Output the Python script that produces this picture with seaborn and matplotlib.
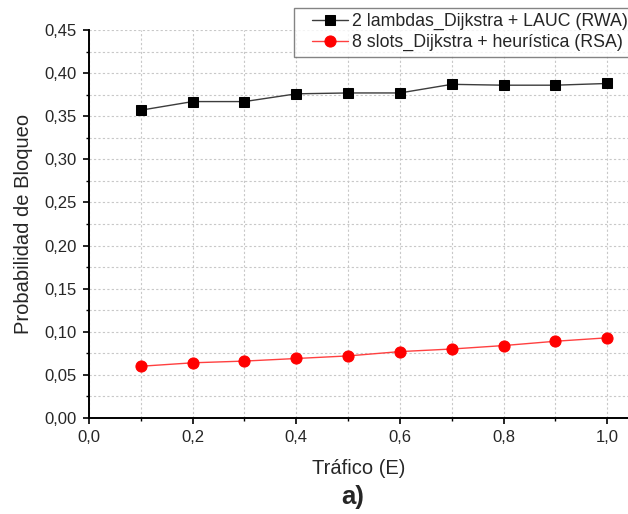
import matplotlib
matplotlib.use("Agg")
import matplotlib.pyplot as plt
from matplotlib.ticker import MultipleLocator
from matplotlib.legend_handler import HandlerLine2D
import seaborn as sns
import pandas as pd

# Traffic load (Erlang) and blocking probability per scheme
trafico = [0.1, 0.2, 0.3, 0.4, 0.5, 0.6, 0.7, 0.8, 0.9, 1.0]
rwa_lauc = [0.357, 0.367, 0.367, 0.376, 0.377, 0.377, 0.387, 0.386, 0.386, 0.388]
rsa_heur = [0.060, 0.064, 0.066, 0.069, 0.072, 0.077, 0.080, 0.084, 0.089, 0.093]

serie_rwa = "2 lambdas_Dijkstra + LAUC (RWA)"
serie_rsa = "8 slots_Dijkstra + heurística (RSA)"

x_ticks = [0.0, 0.2, 0.4, 0.6, 0.8, 1.0]
x_tick_labels = ["0,0", "0,2", "0,4", "0,6", "0,8", "1,0"]
y_ticks = [0.00, 0.05, 0.10, 0.15, 0.20, 0.25, 0.30, 0.35, 0.40, 0.45]
y_tick_labels = ["0,00", "0,05", "0,10", "0,15", "0,20", "0,25",
                 "0,30", "0,35", "0,40", "0,45"]

sns.set_theme(style="white")
plt.rcParams["font.family"] = ["Liberation Sans", "DejaVu Sans"]

df_rwa = pd.DataFrame({"x": trafico, "y": rwa_lauc})
df_rsa = pd.DataFrame({"x": trafico, "y": rsa_heur})

fig = plt.figure(figsize=(6.28, 5.14), dpi=100)
ax = fig.add_axes([0.1417, 0.1868, 0.8583, 0.7548])

sns.lineplot(data=df_rwa, x="x", y="y", ax=ax, color="#3c3c3c", linewidth=1.0,
             marker="s", markersize=7, markerfacecolor="black",
             markeredgecolor="black", label=serie_rwa)
sns.lineplot(data=df_rsa, x="x", y="y", ax=ax, color="#ff4040", linewidth=1.0,
             marker="o", markersize=8, markerfacecolor="red",
             markeredgecolor="red", label=serie_rsa)

ax.set_xlim(0, 1.04)
ax.set_ylim(0, 0.45)
ax.set_xticks(x_ticks)
ax.set_xticklabels(x_tick_labels)
ax.set_yticks(y_ticks)
ax.set_yticklabels(y_tick_labels)
ax.xaxis.set_minor_locator(MultipleLocator(0.1))
ax.yaxis.set_minor_locator(MultipleLocator(0.025))

ax.tick_params(axis="both", which="major", direction="out", length=4.5, width=1.2,
               color="black", labelsize=12, pad=4.5, left=True, bottom=True)
ax.tick_params(axis="both", which="minor", direction="out", length=2.5, width=1.0,
               color="black", left=True, bottom=True)

ax.grid(True, which="both", color="#c8c8c8", linestyle=(0, (2, 2)), linewidth=0.8)
ax.set_axisbelow(True)

for side in ("top", "right"):
    ax.spines[side].set_visible(False)
for side in ("left", "bottom"):
    ax.spines[side].set_color("black")
    ax.spines[side].set_linewidth(1.4)

ax.set_xlabel("Tráfico (E)", fontsize=14.5, labelpad=10)
ax.set_ylabel("Probabilidad de Bloqueo", fontsize=14.5, labelpad=8)
fig.text(0.561, 0.034, "a)", fontsize=18.5, fontweight="bold", ha="center", va="center")

handler = HandlerLine2D(xpad=0.7)
leg = ax.legend(loc="upper right", bbox_to_anchor=(1.01, 1.057), fontsize=12.8,
                frameon=True, fancybox=False, borderpad=0.3, labelspacing=0.2,
                handlelength=2.75, handletextpad=0.22, borderaxespad=0.0,
                handler_map={plt.Line2D: handler})
leg.get_frame().set_edgecolor("#666666")
leg.get_frame().set_linewidth(1.0)

fig.savefig("out.png", dpi=100)
